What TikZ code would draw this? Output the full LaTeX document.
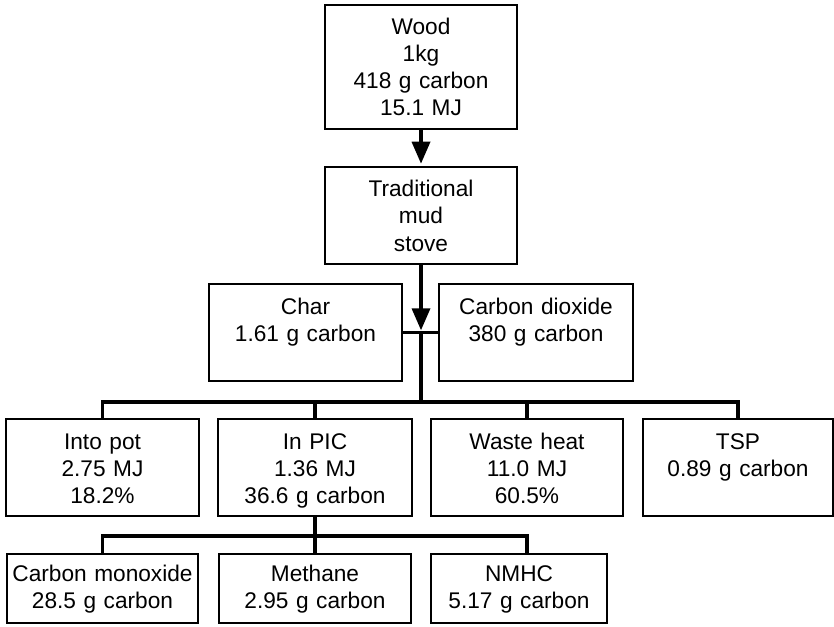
\documentclass[tikz,border=0pt]{standalone}
\usepackage{fontspec}
\setmainfont{Liberation Sans}
\usetikzlibrary{arrows.meta}

\tikzset{every picture/.style={line width=0.75pt}}
\tikzset{
  box/.style={draw, line width=0.9pt, inner sep=0pt, align=center,
    font=\fontsize{17pt}{20.25pt}\selectfont, text width=144pt,
    text height=22.5pt, text depth=50.25pt},
  tallbox/.style={box, text depth=70.5pt},
  lowbox/.style={box, text height=20.25pt, text depth=31.5pt},
  flow/.style={line width=2.6pt},
  tip/.style={-{Triangle[length=16.5pt,width=13.5pt]}, shorten >=2pt}
}

\begin{document}
\begin{tikzpicture}[x=0.75pt,y=0.75pt,yscale=-1,xscale=1]
	\useasboundingbox (0,0) rectangle (834,627);

	% Boxes
	\node[tallbox] (wood) at (421,67) {Wood\\1kg\\418 g carbon\\15.1 MJ};
	\node[box] (stove) at (421,215.5) {Traditional\\mud\\stove};
	\node[box, text width=144.75pt] (char) at (305.5,332.5) {Char\\1.61 g carbon};
	\node[box, text width=145.5pt] (co2) at (536,332.5) {Carbon dioxide\\380 g carbon};
	\node[box, text width=144.75pt] (intopot) at (102.5,467.5) {Into pot\\2.75 MJ\\18.2\%};
	\node[box, text width=145.5pt] (inpic) at (315,467.5) {In PIC\\1.36 MJ\\36.6 g carbon};
	\node[box] (waste) at (527,467.5) {Waste heat\\11.0 MJ\\60.5\%};
	\node[box, text width=142.5pt] (tsp) at (738,467.5) {TSP\\0.89 g carbon};
	\node[lowbox, text width=143.25pt] (co) at (102.5,588.5) {Carbon monoxide\\28.5 g carbon};
	\node[lowbox] (methane) at (315,588.5) {Methane\\2.95 g carbon};
	\node[lowbox, text width=132pt] (nmhc) at (519,588.5) {NMHC\\5.17 g carbon};

	% Junctions
	\coordinate (split) at (421,333);
	\coordinate (bus) at (421,402);
	\coordinate (lowbus) at (315,536);

	% Connectors
	\draw [flow, tip] (wood) -- (stove);
	\draw [flow, tip] (stove) -- (split);
	\draw [flow] (char.east) -- (co2.west);
	\draw [flow] (split) -- (bus);
	\draw [flow] (intopot.north) |- (bus) -| (tsp.north);
	\draw [flow] (inpic.north) -- (inpic.north |- bus);
	\draw [flow] (waste.north) -- (waste.north |- bus);
	\draw [flow] (inpic) -- (methane);
	\draw [flow] (co.north) |- (lowbus) -| (nmhc.north -| waste.south);

\end{tikzpicture}
\end{document}
